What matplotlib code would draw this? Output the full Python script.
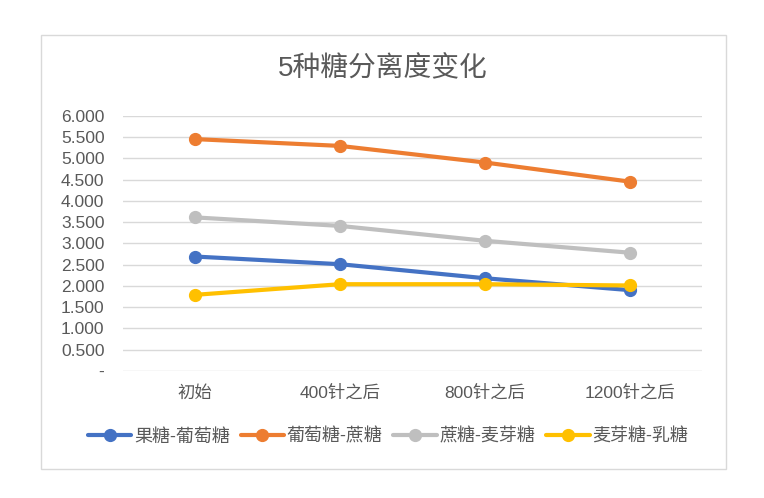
import matplotlib
matplotlib.use("Agg")
import matplotlib.pyplot as plt
from matplotlib.patches import Rectangle
from matplotlib.ticker import FixedLocator, FuncFormatter

plt.rcParams['font.family'] = ['Liberation Sans', 'Noto Sans CJK SC', 'DejaVu Sans']

title = "5种糖分离度变化"
categories = ["初始", "400针之后", "800针之后", "1200针之后"]
series_names = ["果糖-葡萄糖", "葡萄糖-蔗糖", "蔗糖-麦芽糖", "麦芽糖-乳糖"]
fructose_glucose = [2.69, 2.51, 2.18, 1.90]
glucose_sucrose = [5.45, 5.29, 4.90, 4.45]
sucrose_maltose = [3.61, 3.41, 3.06, 2.78]
maltose_lactose = [1.79, 2.04, 2.04, 2.01]
yticks = [0, 0.5, 1.0, 1.5, 2.0, 2.5, 3.0, 3.5, 4.0, 4.5, 5.0, 5.5, 6.0]

colors = ["#4472C4", "#ED7D31", "#BFBFBF", "#FFC000"]
series = [fructose_glucose, glucose_sucrose, sucrose_maltose, maltose_lactose]

W, H = 764, 498
fig = plt.figure(figsize=(W / 100, H / 100), dpi=100)
fig.patch.set_facecolor("white")

# chart border
fig.patches.append(Rectangle((41 / W, 1 - 469 / H), (726 - 41) / W, (469 - 35) / H,
                             transform=fig.transFigure, fill=False,
                             edgecolor="#D9D9D9", linewidth=1.0))

ax = fig.add_axes([122.5 / W, 1 - 371 / H, 580 / W, (371 - 115.7) / H])
x = list(range(len(categories)))
for name, vals, c in zip(series_names, series, colors):
    ax.plot(x, vals, color=c, linewidth=3.0, marker="o", markersize=8.5,
            solid_capstyle="round", label=name, zorder=3)

ax.set_xlim(-0.5, len(categories) - 0.5)
ax.set_ylim(0, 6)
ax.yaxis.set_major_locator(FixedLocator(yticks))
ax.yaxis.set_major_formatter(FuncFormatter(lambda v, p: "-" if abs(v) < 1e-9 else f"{v:.3f}"))
ax.set_xticks(x)
ax.set_xticklabels(categories)
ax.grid(axis="y", color="#D9D9D9", linewidth=1.0, zorder=0)
for s in ax.spines.values():
    s.set_visible(False)
ax.tick_params(axis="both", length=0, labelsize=12.5, labelcolor="#595959")
ax.tick_params(axis="x", pad=10)
ax.tick_params(axis="y", pad=13)

fig.text(383 / W, 1 - 69 / H, title, ha="center", va="center",
         fontsize=20, color="#595959")

leg = fig.legend(loc="center", bbox_to_anchor=(388 / W, 1 - 437 / H), ncol=4,
                 frameon=False, fontsize=13, handlelength=2.4, handletextpad=0.15,
                 columnspacing=0.6, labelcolor="#595959")

fig.savefig("out.png", dpi=100, facecolor="white")
